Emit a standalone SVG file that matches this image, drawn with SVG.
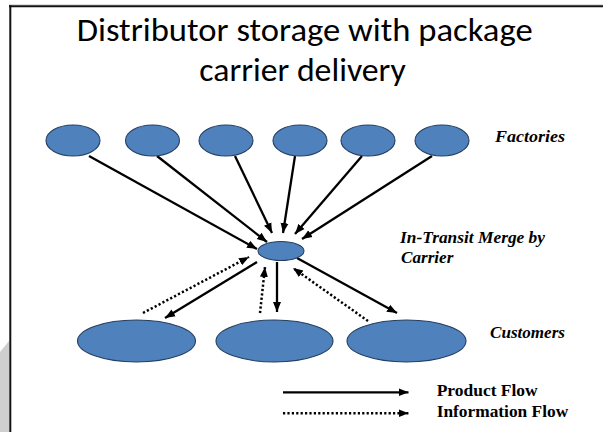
<svg xmlns="http://www.w3.org/2000/svg" width="603" height="432" viewBox="0 0 603 432">
  <defs>
    <marker id="head" markerUnits="userSpaceOnUse" markerWidth="12" markerHeight="10" viewBox="0 0 12 10" refX="10" refY="5" orient="auto">
      <path d="M0,1 L10,5 L0,9 Z" fill="#000"/>
    </marker>
    <style>
      .node { fill: #4f81bd; stroke: #243f60; stroke-width: 1.1; }
      .flow { stroke: #000; stroke-width: 2.3; fill: none; marker-end: url(#head); }
      .info { stroke: #000; stroke-width: 2.5; fill: none; stroke-dasharray: 2.2 2.2; marker-end: url(#head); }
      .title { font-family: Calibri, Carlito, "Open Sans", sans-serif; font-size: 33px; fill: #000; }
      .label { font-family: "Liberation Serif", "Times New Roman", serif; font-size: 16px; font-weight: bold; font-style: italic; fill: #000; }
      .legend { font-family: "Liberation Serif", "Times New Roman", serif; font-size: 16.5px; font-weight: bold; fill: #000; }
    </style>
  </defs>

  <!-- page background, edge shading and frame -->
  <rect x="0" y="0" width="603" height="432" fill="#fff"/>
  <polygon points="0,352 9,341 9,432 0,432" fill="#cfcfcf"/>
  <line x1="9" y1="4.5" x2="603" y2="4.5" stroke="#dcdcdc" stroke-width="1"/>
  <line x1="9" y1="6.2" x2="603" y2="6.2" stroke="#111" stroke-width="2"/>
  <line x1="10.3" y1="5.2" x2="10.3" y2="432" stroke="#111" stroke-width="2"/>

  <!-- title -->
  <text class="title" x="76.7" y="41" textLength="456" lengthAdjust="spacingAndGlyphs">Distributor storage with package</text>
  <text class="title" x="199.3" y="81" textLength="206.5" lengthAdjust="spacingAndGlyphs">carrier delivery</text>

  <!-- connectors -->
  <g id="connectors">
    <line class="flow" x1="89" y1="156" x2="257" y2="249"/>
    <line class="flow" x1="157" y1="156" x2="267" y2="242"/>
    <line class="flow" x1="235" y1="156" x2="272" y2="233"/>
    <line class="flow" x1="295" y1="156" x2="283" y2="233"/>
    <line class="flow" x1="362" y1="156" x2="295" y2="234"/>
    <line class="flow" x1="432" y1="156" x2="302" y2="239"/>

    <line class="flow" x1="257" y1="262" x2="165" y2="318"/>
    <line class="flow" x1="277" y1="262" x2="277" y2="312"/>
    <line class="flow" x1="297" y1="258" x2="397" y2="313"/>

    <line class="info" x1="143" y1="313" x2="249" y2="257"/>
    <line class="info" x1="260" y1="313" x2="265" y2="267"/>
    <line class="info" x1="368" y1="321" x2="293" y2="268"/>
  </g>

  <!-- factories -->
  <g id="factory-1"><ellipse class="node" cx="73" cy="140.5" rx="27" ry="15.5"/></g>
  <g id="factory-2"><ellipse class="node" cx="152.5" cy="140.5" rx="27" ry="15.5"/></g>
  <g id="factory-3"><ellipse class="node" cx="226" cy="140.5" rx="27" ry="15.5"/></g>
  <g id="factory-4"><ellipse class="node" cx="300" cy="140.5" rx="27" ry="15.5"/></g>
  <g id="factory-5"><ellipse class="node" cx="368" cy="140.5" rx="27" ry="15.5"/></g>
  <g id="factory-6"><ellipse class="node" cx="442" cy="140.5" rx="27" ry="15.5"/></g>
  <g id="factories-label"><text class="label" x="495" y="142.3" textLength="70" lengthAdjust="spacingAndGlyphs">Factories</text></g>

  <!-- merge point -->
  <g id="merge">
    <ellipse class="node" cx="281" cy="251" rx="23" ry="9.5"/>
  </g>
  <g id="merge-label">
    <text class="label" x="400" y="243.3" textLength="145" lengthAdjust="spacingAndGlyphs">In-Transit Merge by</text>
    <text class="label" x="401" y="263.3" textLength="52.3" lengthAdjust="spacingAndGlyphs">Carrier</text>
  </g>

  <!-- customers -->
  <g id="customer-1"><ellipse class="node" cx="136.5" cy="341" rx="59" ry="21"/></g>
  <g id="customer-2"><ellipse class="node" cx="274.5" cy="341" rx="58.5" ry="21"/></g>
  <g id="customer-3"><ellipse class="node" cx="406.5" cy="341" rx="59.5" ry="21"/></g>
  <g id="customers-label"><text class="label" x="490" y="338.3" textLength="75" lengthAdjust="spacingAndGlyphs">Customers</text></g>

  <!-- legend -->
  <g id="legend">
    <line class="flow" x1="283" y1="392.3" x2="408.5" y2="392.3"/>
    <line class="info" x1="283" y1="413.3" x2="408.5" y2="413.3"/>
    <text class="legend" x="436.7" y="395.7" textLength="101" lengthAdjust="spacingAndGlyphs">Product Flow</text>
    <text class="legend" x="436.7" y="416.7" textLength="131.5" lengthAdjust="spacingAndGlyphs">Information Flow</text>
  </g>
</svg>
